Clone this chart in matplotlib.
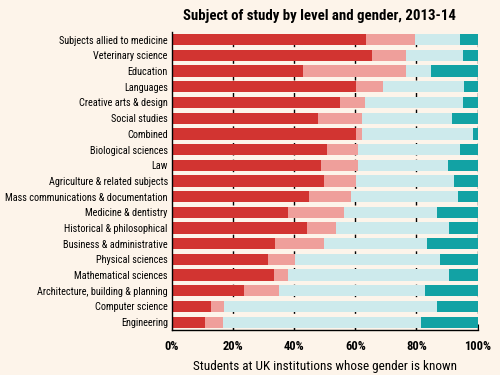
import numpy as np
import matplotlib as mpl
import matplotlib.pyplot as plt
import matplotlib.font_manager as fm
from matplotlib.ticker import MultipleLocator, FuncFormatter

# pick a narrow font if one is installed
installed = set(f.name for f in fm.fontManager.ttflist)
narrow = None
for cand in ['Roboto Condensed', 'Archivo Narrow', 'PT Sans Narrow', 'Open Sans Condensed',
             'Liberation Sans Narrow', 'Fira Sans Condensed', 'Barlow Condensed', 'Oswald']:
    if cand in installed:
        narrow = cand
        break
if narrow is None:
    mpl.rcParams['font.family'] = ['DejaVu Sans']
    mpl.rcParams['font.stretch'] = 'condensed'
    scale = 0.82
else:
    mpl.rcParams['font.family'] = [narrow, 'DejaVu Sans']
    scale = 1.0

subjects = ['Subjects allied to medicine', 'Veterinary science', 'Education',
            'Languages', 'Creative arts & design', 'Social studies', 'Combined',
            'Biological sciences', 'Law', 'Agriculture & related subjects',
            'Mass communications & documentation', 'Medicine & dentistry',
            'Historical & philosophical', 'Business & administrative',
            'Physical sciences', 'Mathematical sciences',
            'Architecture, building & planning', 'Computer science', 'Engineering']

# cumulative boundaries (%)
red_end = [63.4, 65.5, 42.9, 60.2, 54.9, 47.8, 60.2, 50.8, 48.7, 49.9,
           44.9, 38.0, 44.1, 33.6, 31.4, 33.5, 23.6, 12.8, 10.8]
pink_end = [79.6, 76.6, 76.6, 69.2, 63.1, 62.2, 62.2, 61.0, 61.0, 60.2,
            58.6, 56.4, 53.7, 49.6, 40.4, 38.0, 35.0, 16.9, 16.6]
cyan_end = [94.2, 95.1, 84.8, 95.5, 95.1, 91.5, 98.5, 94.3, 90.2, 92.2,
            93.6, 86.6, 90.6, 83.6, 87.7, 90.6, 82.9, 86.6, 81.6]

red_end = np.array(red_end)
pink_end = np.array(pink_end)
cyan_end = np.array(cyan_end)

bg = '#fdf4ea'
fig = plt.figure(figsize=(5, 3.75), dpi=100, facecolor=bg)
ax = fig.add_axes((0.344, 0.12, 0.611, 0.795))
ax.set_facecolor(bg)

y = np.arange(len(subjects))
h = 0.72
ax.barh(y, red_end, height=h, color='#d23431', zorder=3)
ax.barh(y, pink_end - red_end, left=red_end, height=h, color='#ef9f9b', zorder=3)
ax.barh(y, cyan_end - pink_end, left=pink_end, height=h, color='#cdeaec', zorder=3)
ax.barh(y, 100 - cyan_end, left=cyan_end, height=h, color='#12a2a4', zorder=3)

for xv in [20, 40, 60, 80, 100]:
    ax.axvline(xv, color='black', linestyle=(0, (3, 3)), linewidth=1, zorder=1)

ax.set_xlim(0, 100)
ax.set_ylim(len(subjects) - 0.5, -0.5)
ax.set_yticks(y)
ax.set_yticklabels(subjects, fontsize=7.4 * scale)
ax.tick_params(axis='y', length=0, pad=3)
ax.xaxis.set_major_locator(MultipleLocator(20))
ax.xaxis.set_major_formatter(FuncFormatter(lambda v, p: '%d%%' % v))
ax.tick_params(axis='x', direction='in', length=4, labelsize=9 * scale, pad=7)
for t in ax.get_xticklabels():
    t.set_fontweight('bold')

for s in ['top', 'right']:
    ax.spines[s].set_visible(False)
ax.spines['left'].set_linewidth(1)
ax.spines['bottom'].set_linewidth(1)
ax.spines['left'].set_zorder(4)

ax.set_xlabel('Students at UK institutions whose gender is known', fontsize=9.5 * scale, labelpad=5)
fig.text(0.638, 0.958, 'Subject of study by level and gender, 2013-14',
         ha='center', va='center', fontsize=10.7 * scale, fontweight='bold')

fig.savefig('out.png', dpi=100, facecolor=bg)
